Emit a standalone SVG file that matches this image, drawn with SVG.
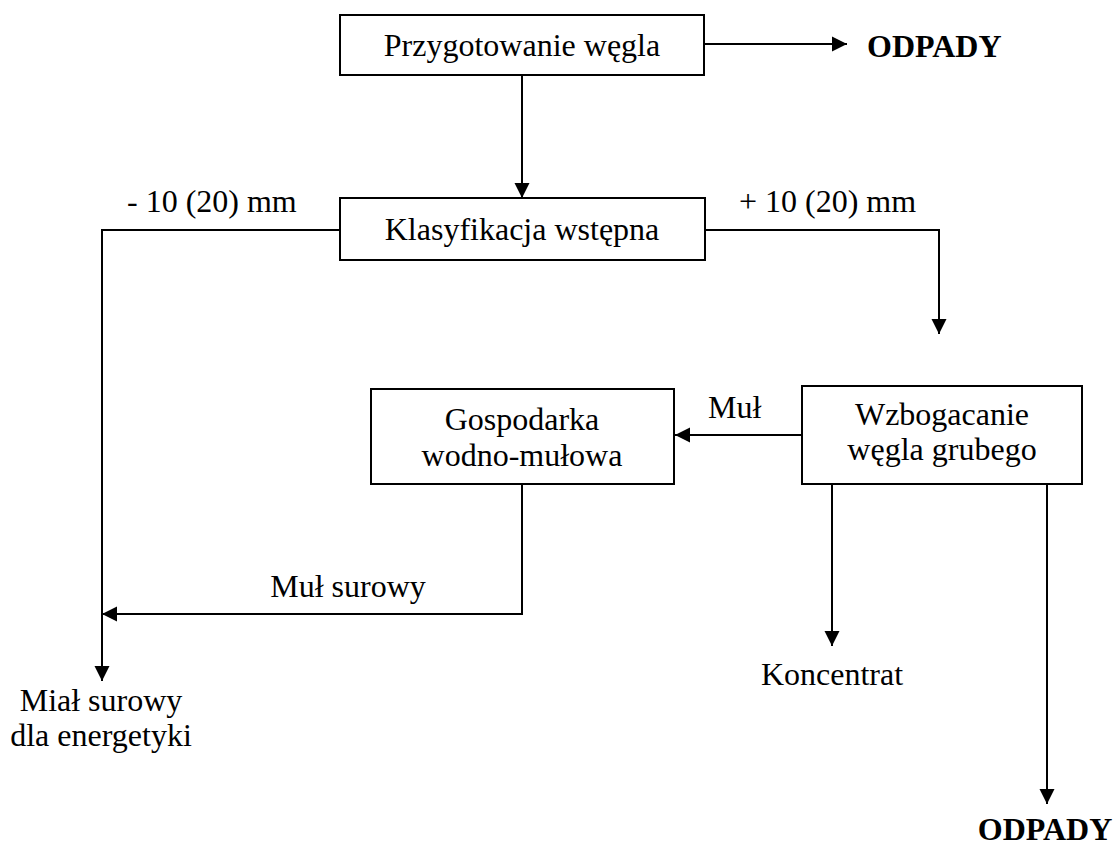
<svg xmlns="http://www.w3.org/2000/svg" width="1118" height="845" viewBox="0 0 1118 845">
  <style>
    .box { fill: #ffffff; stroke: #000000; stroke-width: 2; }
    .link { fill: none; stroke: #000000; stroke-width: 2; }
    .arrow { marker-end: url(#head); }
    text { font-family: "Liberation Serif", "Times New Roman", serif; fill: #000000; }
    .t { font-size: 32px; text-anchor: middle; }
    .lbl { font-size: 32px; }
    .waste { font-size: 32px; font-weight: bold; }
  </style>
  <defs>
    <marker id="head" markerUnits="userSpaceOnUse" markerWidth="16" markerHeight="16" viewBox="0 0 16 16" refX="15" refY="8" orient="auto">
      <path d="M0,0.5 L15,8 L0,15.5 Z" fill="#000000"/>
    </marker>
  </defs>
  <rect width="1118" height="845" fill="#ffffff"/>

  <!-- flow lines -->
  <g id="connectors">
    <path class="link arrow" d="M705,44 H847"/>
    <path class="link arrow" d="M522,75 V198"/>
    <path class="link arrow" d="M340,230 H102 V681"/>
    <path class="link arrow" d="M705,230 H939 V334"/>
    <path class="link arrow" d="M802,435 H675"/>
    <path class="link arrow" d="M522,484 V614 H102"/>
    <path class="link arrow" d="M832,484 V646"/>
    <path class="link arrow" d="M1047,484 V804"/>
  </g>

  <g id="przygotowanie">
    <rect class="box" x="340" y="15" width="364" height="60"/>
    <text class="t" x="522" y="56">Przygotowanie węgla</text>
  </g>

  <g id="klasyfikacja">
    <rect class="box" x="340" y="198" width="365" height="62"/>
    <text class="t" x="522" y="240">Klasyfikacja wstępna</text>
  </g>

  <g id="gospodarka">
    <rect class="box" x="371" y="389" width="303" height="95"/>
    <text class="t" x="522" y="430">Gospodarka</text>
    <text class="t" x="522" y="466">wodno-mułowa</text>
  </g>

  <g id="wzbogacanie">
    <rect class="box" x="802" y="386" width="280" height="98"/>
    <text class="t" x="942" y="425">Wzbogacanie</text>
    <text class="t" x="942" y="460">węgla grubego</text>
  </g>

  <g id="labels">
    <text class="lbl" x="127" y="212">- 10 (20) mm</text>
    <text class="lbl" x="739" y="212">+ 10 (20) mm</text>
    <text class="lbl" x="708" y="418">Muł</text>
    <text class="lbl" x="348" y="597" text-anchor="middle">Muł surowy</text>
    <text class="lbl" x="101" y="711" text-anchor="middle">Miał surowy</text>
    <text class="lbl" x="101" y="746" text-anchor="middle">dla energetyki</text>
    <text class="lbl" x="832" y="685" text-anchor="middle">Koncentrat</text>
  </g>

  <g id="odpady-top">
    <text class="waste" x="867" y="57">ODPADY</text>
  </g>
  <g id="odpady-bottom">
    <text class="waste" x="1045" y="840" text-anchor="middle">ODPADY</text>
  </g>
</svg>
